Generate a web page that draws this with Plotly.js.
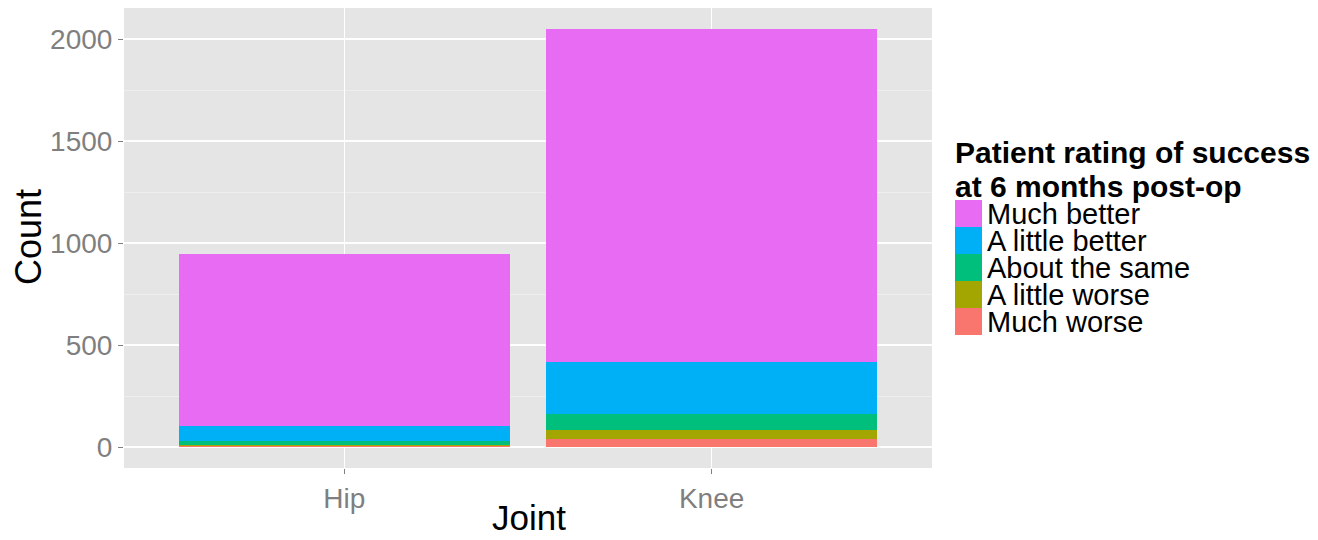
<!DOCTYPE html>
<html>
<head>
<meta charset="utf-8">
<script src="https://cdn.plot.ly/plotly-3.0.1.min.js"></script>
<style>html,body{margin:0;padding:0;background:#fff;}#chart{width:1318px;height:540px;}</style>
</head>
<body>
<div id="chart"></div>
<script>
// Data
var joints = ["Hip", "Knee"];
var ratings = ["Much worse", "A little worse", "About the same", "A little better", "Much better"];
var muchWorse     = [3, 39];
var littleWorse   = [5, 46];
var aboutSame     = [24, 76];
var littleBetter  = [72, 258];
var muchBetter    = [845, 1629];
var colors = ["#F8766D", "#A3A500", "#00BF7D", "#00B0F6", "#E76BF3"];
var legendTitle = ["Patient rating of success", "at 6 months post-op"];
var yTicks = [0, 500, 1000, 1500, 2000];
var xTitle = "Joint", yTitle = "Count";

var series = [muchWorse, littleWorse, aboutSame, littleBetter, muchBetter];
var traces = series.map(function (vals, i) {
  return {
    type: "bar",
    x: joints,
    y: vals,
    name: ratings[i],
    marker: { color: colors[i], line: { width: 0 } },
    width: 0.9,
    showlegend: false,
    hoverinfo: "x+y+name"
  };
});

var W = 1318, H = 540;
var mL = 124, mR = W - 932, mT = 8, mB = H - 468;
var plotW = W - mL - mR, plotH = H - mT - mB;
function px2x(px) { return (px - mL) / plotW; }
function py2y(py) { return (H - mB - py) / plotH; }

var FONT = "Liberation Sans, Arial, Helvetica, sans-serif";
var shapes = [], annotations = [];

// Axis titles
annotations.push({
  xref: "paper", yref: "paper", x: px2x(529), y: py2y(539),
  xanchor: "center", yanchor: "bottom", showarrow: false,
  text: xTitle, font: { family: FONT, size: 35, color: "#000" }
});
annotations.push({
  xref: "paper", yref: "paper", x: px2x(28), y: py2y(237),
  xanchor: "center", yanchor: "middle", showarrow: false, textangle: -90,
  text: yTitle, font: { family: FONT, size: 36, color: "#000" }
});

// Legend title
legendTitle.forEach(function (t, i) {
  annotations.push({
    xref: "paper", yref: "paper",
    x: px2x(953), y: py2y(153 + i * 33),
    xanchor: "left", yanchor: "middle",
    text: "<b>" + t + "</b>", showarrow: false,
    font: { family: FONT, size: 30, color: "#000" }
  });
});
// Legend keys (top to bottom: reverse order of stacking)
var order = ratings.slice().reverse();
var ordColors = colors.slice().reverse();
order.forEach(function (name, i) {
  var top = 200 + i * 27;
  shapes.push({
    type: "rect", xref: "paper", yref: "paper",
    x0: px2x(955), x1: px2x(982),
    y0: py2y(top + 27), y1: py2y(top),
    fillcolor: ordColors[i], line: { width: 0 }
  });
  annotations.push({
    xref: "paper", yref: "paper",
    x: px2x(985), y: py2y(top + 14),
    xanchor: "left", yanchor: "middle",
    text: name, showarrow: false,
    font: { family: FONT, size: 29, color: "#000" }
  });
});

var layout = {
  width: W, height: H,
  margin: { l: mL, r: mR, t: mT, b: mB, pad: 0 },
  paper_bgcolor: "#ffffff",
  plot_bgcolor: "#E5E5E5",
  barmode: "stack",
  bargap: 0.1,
  showlegend: false,
  font: { family: FONT },
  xaxis: {
    type: "category",
    range: [-0.6, 1.6],
    showgrid: true, gridcolor: "#ffffff", gridwidth: 1.6,
    zeroline: false, showline: false,
    ticks: "outside", ticklen: 5, tickwidth: 1, tickcolor: "#7f7f7f",
    tickfont: { family: FONT, size: 28, color: "#7f7f7f" },
    fixedrange: true
  },
  yaxis: {
    range: [-102.5, 2152.5],
    tickvals: yTicks,
    ticktext: yTicks.map(String),
    showgrid: true, gridcolor: "#ffffff", gridwidth: 1.6,
    minor: { dtick: 250, tick0: 0, showgrid: true, gridcolor: "#F2F2F2", gridwidth: 0.7 },
    zeroline: false, showline: false,
    ticks: "outside", ticklen: 5, tickwidth: 1, tickcolor: "#7f7f7f",
    tickfont: { family: FONT, size: 28, color: "#7f7f7f" },
    fixedrange: true
  },
  shapes: shapes,
  annotations: annotations
};

Plotly.newPlot("chart", traces, layout, { displayModeBar: false, staticPlot: true });
</script>
</body>
</html>
